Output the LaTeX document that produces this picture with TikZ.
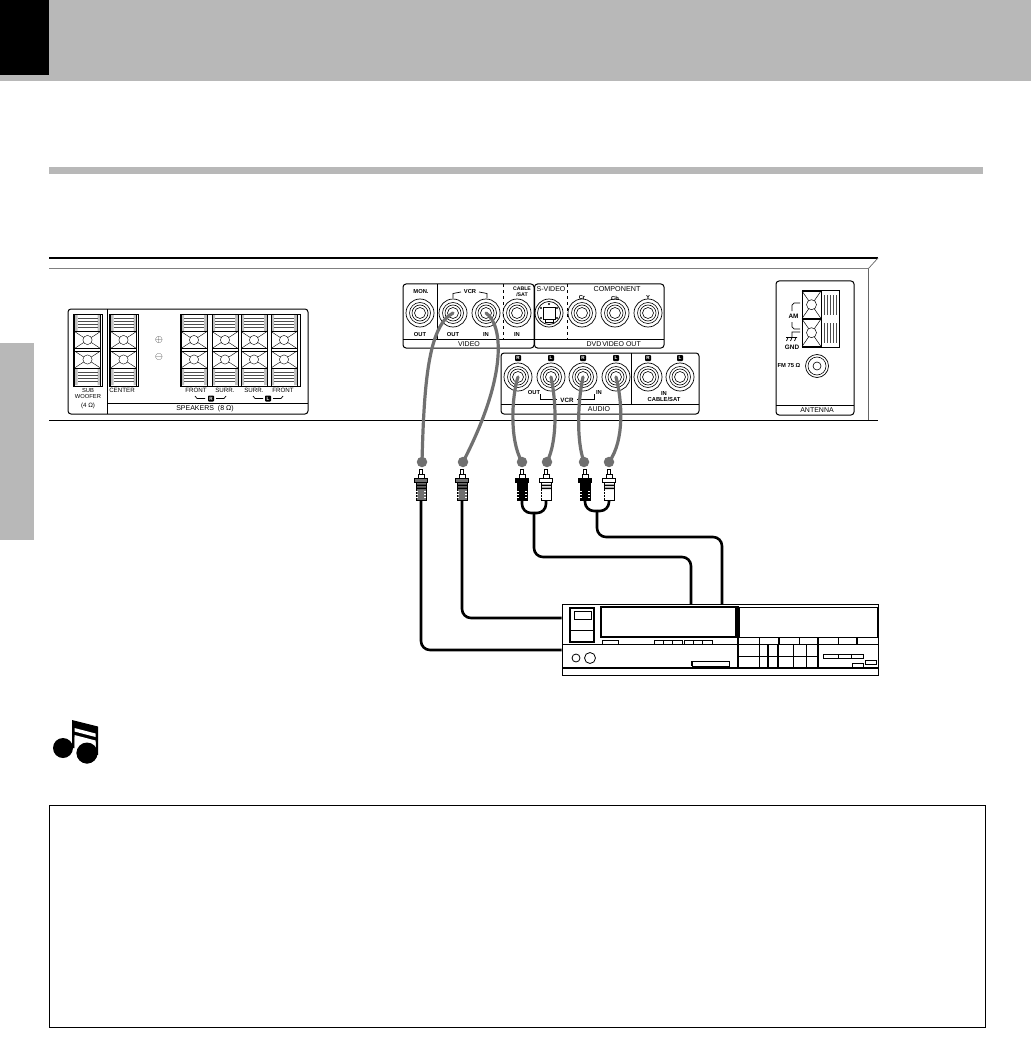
\documentclass[tikz,border=0pt]{standalone}
\usepackage{fontspec}
\setmainfont{Liberation Sans}
\usetikzlibrary{positioning}
\definecolor{bandgray}{HTML}{B8B8B8}
\definecolor{cablegray}{HTML}{707070}
\tikzstyle{panel} = [draw=black, line width=1pt, rounded corners=3pt]
\tikzstyle{plate} = [draw=black, line width=1pt]
\tikzstyle{thinline} = [draw=black, line width=0.7pt]
\tikzstyle{tag} = [inner sep=0pt, font=\fontsize{6.2}{6.6}\selectfont, align=center]
\tikzstyle{tagb} = [inner sep=0pt, font=\fontsize{5.8}{6.2}\selectfont\bfseries, align=center]
\tikzstyle{tagw} = [inner sep=0pt, font=\fontsize{7}{7.5}\selectfont]
\tikzstyle{badge} = [fill=black, text=white, rounded corners=0.8pt, inner sep=0pt, minimum size=6pt, font=\fontsize{4.6}{5}\selectfont\bfseries]
\tikzstyle{jack} = [circle, draw=black, line width=0.7pt, minimum size=28pt, inner sep=0pt]
\tikzstyle{ball} = [circle, fill=cablegray, minimum size=10.5pt, inner sep=0pt]
\tikzstyle{sigcable} = [draw=cablegray, line width=3.2pt, line cap=round]
\tikzstyle{wire} = [draw=black, line width=2.6pt, rounded corners=9pt]
\tikzstyle{plugbody} = [rectangle, draw=black, line width=0.5pt, minimum width=10pt, minimum height=18pt, inner sep=0pt]
\newcommand{\rcaplug}[4]{%
  \node (#1) [plugbody, fill=#3] at (#2,491) {};
  \draw [fill=white, line width=0.6pt] (#2-1.5,469) rectangle (#2+1.5,478);
  \draw [fill=white, line width=0.6pt] (#2-3.2,474) rectangle (#2+3.2,478);
  \draw [fill=#3, line width=0.6pt] (#2-6.5,478) rectangle (#2+6.5,482.5);
  \fill [#4] (#2-5,484.5) rectangle (#2+5,486) (#2-5,487.5) rectangle (#2+5,489);
  \foreach \ry in {491.5,494.5,497.5} {\draw [white, line width=0.8pt] (#2-5.2,\ry) -- (#2-3.4,\ry) (#2+3.4,\ry) -- (#2+5.2,\ry);}
}
\newcommand{\spkbox}[2]{%
  \draw [fill=white, line width=0.7pt] (#1,#2) rectangle (#1+26,#2+17);
  \draw [line width=0.4pt] (#1,#2) -- (#1+26,#2+17) (#1,#2+17) -- (#1+26,#2);
  \draw [fill=white, line width=0.4pt] (#1+13,#2+8.5) circle (4.6);
}
\begin{document}
\begin{tikzpicture}[x=1pt,y=-1pt]
\useasboundingbox (0,0) rectangle (1031,1056);

% page furniture
\fill [bandgray] (0,0) rectangle (1031,81);
\fill [black] (0,0) rectangle (49,75);
\fill [bandgray] (0,343) rectangle (34,540);
\fill [bandgray] (49,167) rectangle (983,174);
\draw [line width=0.8pt] (49.5,805.5) rectangle (985,1027);

% rear panel
\draw [line width=1.7pt] (49,258) -- (878,258);
\draw [draw=black!50, line width=1pt] (49,269) -- (868,269);
\draw [draw=black!60, line width=0.7pt] (868,269) -- (878,258);
\draw [draw=black!60, line width=0.7pt] (868,269) -- (868,421);
\draw [line width=1.7pt] (49,420.5) -- (878,420.5);

% speakers
\draw [panel] (68,309) rectangle (308,414);
\draw [thinline] (107,309) -- (107,414) (107,403) -- (308,403);
\draw [line width=0.9pt] (73,314) rectangle (102,386) (109,314) rectangle (138,386) (180,314) rectangle (300,386);
\foreach \tx in {74.5,110.5,181,212,241,271} {
  \fill [black!25] (\tx,315) rectangle (\tx+3,331) (\tx+23,315) rectangle (\tx+26,331) (\tx,368) rectangle (\tx+3,385) (\tx+23,368) rectangle (\tx+26,385);
  \draw [line width=0.6pt] (\tx,314) -- (\tx,386) (\tx+26,314) -- (\tx+26,386);
  \foreach \ry in {318,321,324,327,372,375,378,381} {\draw [draw=black!70, line width=0.3pt] (\tx+3,\ry) -- (\tx+23,\ry);}
  \spkbox{\tx}{331.5}
  \spkbox{\tx}{351}
}
\node (plusSign) [inner sep=0pt] at (159,340) {\fontsize{10}{10}\selectfont$\oplus$};
\node (minusSign) [below=10pt of plusSign, inner sep=0pt] {\fontsize{10}{10}\selectfont$\ominus$};
\node (subTag) [tag, font=\fontsize{5.8}{6.2}\selectfont] at (88,393.5) {SUB\\WOOFER};
\node (fourTag) [tag] at (88,406) {(4 Ω)};
\node (centerTag) [tag] at (122,390) {CENTER};
\node (speakersTag) [tagw] at (205,409) {SPEAKERS\ \ (8 Ω)};
\foreach \lname/\lx/\ltxt in {frontR/196/FRONT, surrR/225/SURR., surrL/254/SURR., frontL/283/FRONT} {
  \node (\lname) [tag] at (\lx,390) {\ltxt};
}
\node (badgeSpkR) [badge] at (211,398.5) {R};
\node (badgeSpkL) [badge] at (268,398.5) {L};
\draw [thinline] (195,396) -- (197,398.5) -- (205,398.5) (216,398.5) -- (224,398.5) -- (226,396);
\draw [thinline] (253,396) -- (255,398.5) -- (263,398.5) (273,398.5) -- (281,398.5) -- (283,396);

% video panels
\draw [panel] (403,284) rectangle (534,348);
\draw [panel] (534.5,284) rectangle (664,348);
\draw [thinline] (403,339) -- (664,339) (437,284) -- (437,339);
\draw [thinline, dashed] (503,284) -- (503,339) (567,284) -- (567,339);
\foreach \jname/\jx/\jy in {jackMon/420/313, jackOut/453/313, jackIn/486/313, jackCable/517/313, jackCr/582/313, jackCb/615/313, jackY/648/313, audioA/518/377, audioB/551/377, audioC/583/377, audioD/616/377, audioE/648/377, audioF/680/377} {
  \node (\jname) [jack] at (\jx,\jy) {};
  \draw [line width=0.6pt] (\jx,\jy) circle (10.5);
  \draw [line width=0.6pt] (\jx,\jy) circle (8);
  \draw [line width=0.6pt] (\jx,\jy) circle (5.5);
}
\node (jackSvid) [jack] at (549,313) {};
\draw [line width=0.7pt] (549,313) circle (11.5);
\draw [line width=0.5pt] (543,307) rectangle (555,319) (545,319) rectangle (553,322);
\foreach \dx/\dy in {541/308, 557/308, 541/318, 557/318, 549/304} {\fill [black] (\dx,\dy) circle (1.1);}
\foreach \lname/\lx/\ly/\ltxt in {tagOutA/420/335/OUT, tagOutB/453/335/OUT, tagInA/486/335/IN, tagInB/517/335/IN, tagCr/582/298/Cr, tagCb/615/298/Cb, tagY/648/298/Y, tagVcr/470/292/VCR, tagMon/421/292/MON.} {
  \node (\lname) [tagb] at (\lx,\ly) {\ltxt};
}
\node (tagCsat) [tagb, font=\fontsize{5.2}{5.6}\selectfont\bfseries] at (522,292) {CABLE\\/SAT};
\node (tagSvid) [tagw] at (551,289.5) {S-VIDEO};
\node (tagComp) [tagw, font=\fontsize{7.2}{8}\selectfont] at (617,289.5) {COMPONENT};
\node (tagVideo) [tagw] at (469,344) {VIDEO};
\node (tagDvd) [tagw] at (594,344) {DVD};
\node (tagDvdOut) [tagw, right=0.5pt of tagDvd] {VIDEO OUT};
\draw [thinline] (453,298) -- (453,293.5) -- (461,292) (479,292) -- (487,293.5) -- (487,298);

% audio panel
\draw [panel] (501,353) rectangle (699,414);
\draw [thinline] (501,404) -- (699,404) (631,353) -- (631,404);
\foreach \bname/\bx/\btxt in {badgeA/518/R, badgeB/551/L, badgeC/583/R, badgeD/616/L, badgeE/648/R, badgeF/680/L} {
  \node (\bname) [badge] at (\bx,358) {\btxt};
}
\node (tagAudOut) [tagb] at (534,393) {OUT};
\node (tagAudIn) [tagb] at (599,393) {IN};
\node (tagAudVcr) [tagb, font=\fontsize{6.2}{7}\selectfont\bfseries] at (567,400) {VCR};
\node (tagAudio) [tagw] at (599,409) {AUDIO};
\node (tagAudCsat) [tagb] at (664,396.5) {IN\\CABLE/SAT};
\draw [thinline] (540,394) -- (540,399) -- (557,399) (577,399) -- (594,399) -- (594,394);

% antenna
\draw [panel] (776,281) rectangle (854,415);
\draw [thinline] (776,405) -- (854,405);
\node (tagAntenna) [tagw] at (817,410) {ANTENNA};
\draw [line width=0.9pt] (802,290) rectangle (839,347);
\foreach \ay in {291,319} {
  \draw [fill=white, line width=0.6pt] (802,\ay) rectangle (821,\ay+27.5);
  \draw [line width=0.5pt] (802,\ay) -- (821,\ay+27.5) (802,\ay+27.5) -- (821,\ay);
  \draw [fill=white, line width=0.5pt] (811.5,\ay+13.7) circle (5);
  \foreach \rx in {824,827,830,833,836} {\draw [draw=black!70, line width=0.35pt] (\rx,\ay+4) -- (\rx,\ay+24);}
}
\node (tagAm) [tagb, font=\fontsize{6.4}{7}\selectfont\bfseries] at (793.5,316.5) {AM};
\node (tagGnd) [tagb, font=\fontsize{6.4}{7}\selectfont\bfseries] at (792,347) {GND};
\node (tagFm) [tagb] at (789,366) {FM 75 Ω};
\draw [thinline] (800,303) -- (794,303) -- (792,305) -- (792,311) (792,322) -- (792,327) -- (794,329) -- (800,329);
\draw [thinline] (800,332) -- (792,332) -- (792,337) (786,337.5) -- (797,337.5) (788,337.5) -- (786.5,341) (792,337.5) -- (790.5,341) (796,337.5) -- (794.5,341);
\node (jackFm) [circle, draw=black, line width=0.7pt, minimum size=23pt, inner sep=0pt] at (817,366) {};
\draw [line width=0.6pt] (817,366) circle (9);
\draw [line width=0.6pt] (817,366) circle (4);

% deck
\node (deck) [plate, minimum width=316pt, minimum height=71pt, inner sep=0pt] at (720,640) {};
\coordinate (deckA) at (deck.west |- 0,650);
\coordinate (deckB) at (deck.west |- 0,618);
\coordinate (deckC) at (691,604);
\coordinate (deckD) at (722,604);
\draw [line width=1.1pt] (562,668) -- (878,668);
\draw [line width=1.7pt] (562,644.5) -- (878,644.5);
\draw [line width=1.4pt] (738,606) -- (738,668);
\draw [line width=1.3pt] (570,608) rectangle (594,642);
\draw [line width=0.8pt] (574,611) rectangle (591,619) (570,630) -- (594,630);
\draw [line width=1.2pt] (601,607) rectangle (736,637);
\draw [line width=0.8pt] (602,640.5) rectangle (618,644) (654,640.5) rectangle (682,644) (684,640.5) rectangle (712,644);
\draw [line width=0.6pt] (663,640.5) -- (663,644) (672,640.5) -- (672,644) (693,640.5) -- (693,644) (702,640.5) -- (702,644);
\draw [line width=0.8pt] (739.5,607) rectangle (877,637);
\foreach \cx in {759,799,838} {\draw [line width=0.6pt] (\cx,637) -- (\cx,644);}
\foreach \cx in {779,818,857} {\draw [line width=1.1pt] (\cx,637) -- (\cx,644);}
\draw [line width=0.8pt] (576,658) circle (4);
\draw [line width=0.8pt] (590,658) circle (5.5);
\draw [line width=0.8pt] (692,661) rectangle (729,666);
\draw [line width=1.3pt] (692,661) -- (692,666);
\draw [line width=1.4pt] (739,656.5) -- (818,656.5);
\foreach \cx in {759,793,806} {\draw [line width=0.6pt] (\cx,645) -- (\cx,668);}
\foreach \cx in {768,778,818} {\draw [line width=1.2pt] (\cx,645) -- (\cx,668);}
\draw [line width=0.9pt] (823,654) rectangle (863,658);
\draw [line width=0.6pt] (838,654) -- (838,658) (851,654) -- (851,658);
\draw [line width=0.7pt] (852,663) rectangle (863,667) (865,660) rectangle (876,664);

% plugs and cables
\foreach \bname/\bx in {ballA/422, ballB/463, ballC/522, ballD/547, ballE/584, ballF/609} {
  \node (\bname) [ball] at (\bx,462) {};
}
\rcaplug{plugA}{421}{cablegray}{black}
\rcaplug{plugB}{462}{cablegray}{black}
\rcaplug{plugC}{522}{black}{black}
\rcaplug{plugD}{546}{white}{black}
\rcaplug{plugE}{585}{black}{black}
\rcaplug{plugF}{609}{white}{black}

\draw [sigcable] (jackOut.center) .. controls (428,326) and (424,385) .. (ballA.center);
\draw [sigcable] (jackIn.center) .. controls (503,325) and (508,375) .. (ballB.center);
\draw [sigcable] (audioA.center) .. controls (512,395) and (509,440) .. (ballC.center);
\draw [sigcable] (audioB.center) .. controls (556,400) and (558,440) .. (ballD.center);
\draw [sigcable] (audioC.center) .. controls (578,400) and (576,440) .. (ballE.center);
\draw [sigcable] (audioD.center) .. controls (622,400) and (625,440) .. (ballF.center);

\coordinate (joinA) at (534,513);
\coordinate (joinB) at (597,511);
\coordinate (bendA) at (691,557);
\coordinate (bendB) at (722,537);
\draw [wire] (plugA.south) |- (deckA);
\draw [wire] (plugB.south) |- (deckB);
\draw [wire] (plugC.south) |- (joinA);
\draw [wire] (plugD.south) |- (joinA);
\draw [wire] (plugE.south) |- (joinB);
\draw [wire] (plugF.south) |- (joinB);
\draw [wire] (joinA) |- (bendA) -- (deckC);
\draw [wire] (joinB) |- (bendB) -- (deckD);

% note symbol
\fill [black] (63,748) circle (10) (87,753) circle (10.5);
\fill [black] (72,720) -- (98,726.5) -- (98,755) -- (95.5,755) -- (95.5,742) -- (74.5,736.5) -- (74.5,748) -- (72,748) -- cycle;
\fill [white] (74.5,728) -- (95.5,733.5) -- (95.5,737) -- (74.5,731.5) -- cycle;
\fill [white] (74.5,735) -- (95.5,740.5) -- (95.5,753) -- (74.5,748) -- cycle;
\fill [black] (87,753) circle (10.5);
\end{tikzpicture}
\end{document}
